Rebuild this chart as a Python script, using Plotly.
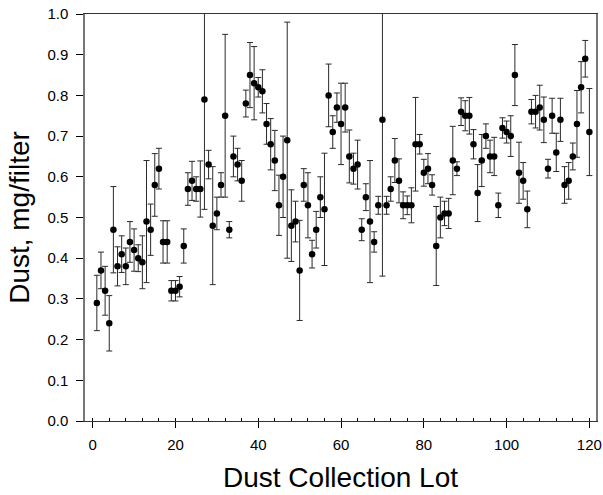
import plotly.graph_objects as go

lots = list(range(1, 121))
dust = [0.29, 0.37, 0.32, 0.24, 0.47, 0.38, 0.41, 0.38, 0.44, 0.42,
        0.40, 0.39, 0.49, 0.47, 0.58, 0.62, 0.44, 0.44, 0.32, 0.32,
        0.33, 0.43, 0.57, 0.59, 0.57, 0.57, 0.79, 0.63, 0.48, 0.51,
        0.58, 0.75, 0.47, 0.65, 0.63, 0.59, 0.78, 0.85, 0.83, 0.82,
        0.81, 0.73, 0.68, 0.64, 0.53, 0.60, 0.69, 0.48, 0.49, 0.37,
        0.58, 0.53, 0.41, 0.47, 0.55, 0.52, 0.80, 0.71, 0.77, 0.73,
        0.77, 0.65, 0.62, 0.63, 0.47, 0.55, 0.49, 0.44, 0.53, 0.74,
        0.53, 0.57, 0.64, 0.59, 0.53, 0.53, 0.53, 0.68, 0.68, 0.61,
        0.62, 0.58, 0.43, 0.50, 0.51, 0.51, 0.64, 0.62, 0.76, 0.75,
        0.75, 0.68, 0.56, 0.64, 0.70, 0.65, 0.65, 0.53, 0.72, 0.71,
        0.70, 0.85, 0.61, 0.59, 0.52, 0.76, 0.76, 0.77, 0.74, 0.62,
        0.75, 0.66, 0.74, 0.58, 0.59, 0.65, 0.73, 0.82, 0.89, 0.71]
err = [0.068, 0.045, 0.060, 0.068, 0.106, 0.048, 0.045, 0.045, 0.050, 0.052,
       0.033, 0.065, 0.150, 0.063, 0.077, 0.050, 0.052, 0.052, 0.025, 0.025,
       0.025, 0.042, 0.040, 0.048, 0.030, 0.069, 0.270, 0.035, 0.145, 0.040,
       0.030, 0.200, 0.020, 0.050, 0.040, 0.050, 0.033, 0.080, 0.090, 0.024,
       0.053, 0.050, 0.063, 0.074, 0.074, 0.100, 0.290, 0.088, 0.050, 0.123,
       0.040, 0.080, 0.034, 0.045, 0.050, 0.138, 0.077, 0.040, 0.036, 0.100,
       0.060, 0.065, 0.038, 0.060, 0.027, 0.033, 0.150, 0.025, 0.022, 0.384,
       0.022, 0.030, 0.054, 0.054, 0.033, 0.023, 0.043, 0.115, 0.024, 0.033,
       0.037, 0.025, 0.097, 0.050, 0.030, 0.037, 0.084, 0.017, 0.034, 0.037,
       0.045, 0.036, 0.070, 0.064, 0.030, 0.040, 0.047, 0.030, 0.025, 0.027,
       0.050, 0.075, 0.075, 0.045, 0.045, 0.030, 0.040, 0.055, 0.056, 0.023,
       0.043, 0.047, 0.053, 0.045, 0.045, 0.033, 0.082, 0.063, 0.045, 0.107]

x_ticks = [0, 20, 40, 60, 80, 100, 120]
y_ticks = [0.0, 0.1, 0.2, 0.3, 0.4, 0.5, 0.6, 0.7, 0.8, 0.9, 1.0]

fig = go.Figure()
fig.add_trace(go.Scatter(
    x=lots, y=dust, mode="markers",
    marker=dict(color="black", size=6.5),
    error_y=dict(type="data", array=err, visible=True, color="#2a2a2a",
                 thickness=1, width=3),
    cliponaxis=True, showlegend=False,
))

font = "Liberation Sans, Arial, sans-serif"
fig.update_layout(
    width=603, height=495,
    margin=dict(l=85, r=7, t=14, b=74),
    paper_bgcolor="white", plot_bgcolor="white",
    font=dict(family=font, color="black", size=15),
)
fig.update_xaxes(
    range=[-1.86, 121.6], tickvals=x_ticks, ticktext=[str(v) for v in x_ticks],
    ticks="outside", ticklen=6, tickcolor="black", tickwidth=1,
    ticklabelstandoff=4, ticklabeloverflow="allow",
    minor=dict(dtick=4, tick0=0, ticks="inside", ticklen=3, tickcolor="black"),
    showline=True, linecolor="#333333", linewidth=1, mirror=True,
    showgrid=False, zeroline=False, automargin=False,
    tickfont=dict(size=15),
    title=dict(text="Dust Collection Lot", font=dict(size=28), standoff=15),
)
fig.update_yaxes(
    range=[0, 1.0], tickvals=y_ticks, ticktext=[f"{v:.1f}" for v in y_ticks],
    ticks="outside", ticklen=7, tickcolor="black", tickwidth=1,
    ticklabelstandoff=5, ticklabeloverflow="allow",
    showline=True, linecolor="#777777", linewidth=1.5, mirror=True,
    showgrid=False, zeroline=False, automargin=False,
    tickfont=dict(size=15),
    title=dict(text="Dust, mg/filter", font=dict(size=28), standoff=10),
)

# remove the default page margin so the figure fills the 603x495 window exactly
fig.write_html("out.html", config={"displayModeBar": False},
               post_script="document.body.style.margin='0';")
